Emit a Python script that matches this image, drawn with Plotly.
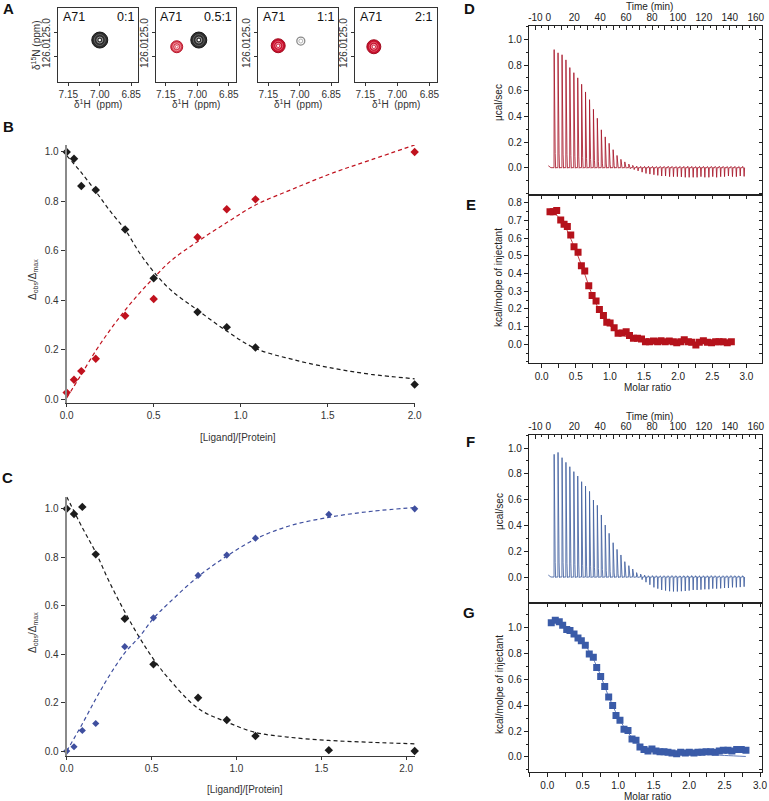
import plotly.graph_objects as go

W, H = 769, 801
FONT = "Liberation Sans, Arial, sans-serif"


def px(x):
    return x / W


def py(y):
    return 1 - y / H


# ---------------- DATA ----------------
# Panel A : 1H-15N HSQC peak of residue A71 at four ligand:protein ratios
nmr_residue = "A71"
nmr_ratios = ["0:1", "0.5:1", "1:1", "2:1"]
nmr_panel = [1, 2, 2, 3, 3, 4]
nmr_h = [7.000, 7.098, 6.993, 7.103, 6.995, 7.110]
nmr_n = [125.32, 125.59, 125.32, 125.55, 125.36, 125.59]
nmr_state = ["free", "bound_weak", "free", "bound", "free_weak", "bound"]
nmr_xticks = [7.15, 7.00, 6.85]
nmr_yticks = [125.0, 126.0]

# Panel B : chemical shift titration (red ligand)
b_ratio = [0.0, 0.042, 0.084, 0.167, 0.336, 0.50, 0.752, 0.92, 1.085, 2.0]
b_free = [1.0, 0.972, 0.862, 0.846, 0.686, 0.489, 0.352, 0.291, 0.209, 0.059]
b_bound = [0.026, 0.078, 0.113, 0.163, 0.337, 0.405, 0.655, 0.768, 0.808, 1.0]
b_fit_x = [0.0, 0.08, 0.167, 0.25, 0.336, 0.42, 0.5, 0.6, 0.752, 0.92, 1.085, 1.3, 1.534, 1.75, 2.0]
b_fit_free = [0.985, 0.92, 0.84, 0.76, 0.685, 0.59, 0.515, 0.44, 0.36, 0.275, 0.205, 0.16, 0.124, 0.10, 0.082]
b_fit_bound = [0.005, 0.095, 0.195, 0.28, 0.36, 0.43, 0.49, 0.56, 0.637, 0.714, 0.785, 0.85, 0.916, 0.968, 1.028]

# Panel C : chemical shift titration (blue ligand)
c_ratio = [0.0, 0.043, 0.092, 0.171, 0.342, 0.511, 0.774, 0.943, 1.112, 1.544, 2.05]
c_free = [1.0, 0.979, 1.008, 0.812, 0.546, 0.358, 0.220, 0.128, 0.062, 0.004, 0.0]
c_bound = [0.0, 0.018, 0.085, 0.114, 0.431, 0.55, 0.725, 0.809, 0.879, 0.977, 1.0]
c_fit_x = [0.0, 0.09, 0.171, 0.25, 0.342, 0.432, 0.511, 0.6, 0.774, 0.943, 1.112, 1.3, 1.544, 1.8, 2.05]
c_fit_free = [1.05, 0.925, 0.82, 0.70, 0.575, 0.465, 0.38, 0.30, 0.176, 0.12, 0.077, 0.058, 0.044, 0.036, 0.03]
c_fit_bound = [0.0, 0.11, 0.215, 0.31, 0.405, 0.475, 0.548, 0.61, 0.72, 0.805, 0.875, 0.927, 0.965, 0.99, 1.005]

# Panels D / F : raw ITC thermograms (injection time, peak max, peak min)
itc_times = [4.4, 7.4, 10.5, 13.5, 16.5, 19.6, 22.6, 25.6, 28.6, 31.7, 34.7, 37.7, 40.8,
             43.8, 46.8, 49.9, 52.9, 55.9, 58.9, 62.0, 65.0, 68.0, 71.1, 74.1, 77.1, 80.2,
             83.2, 86.2, 89.2, 92.3, 95.3, 98.3, 101.4, 104.4, 107.4, 110.5, 113.5, 116.5,
             119.5, 122.6, 125.6, 128.6, 131.7, 134.7, 137.7, 140.8, 143.8, 146.8, 149.8]
d_up = [0.92, 0.895, 0.88, 0.84, 0.78, 0.74, 0.70, 0.65, 0.59, 0.53, 0.455, 0.385, 0.295,
        0.24, 0.19, 0.14, 0.095, 0.065, 0.045, 0.028, 0.018, 0.012, 0.010, 0.010, 0.011,
        0.010, 0.009, 0.010, 0.010, 0.011, 0.010, 0.009, 0.010, 0.010, 0.011, 0.010, 0.009,
        0.010, 0.010, 0.009, 0.010, 0.010, 0.011, 0.010, 0.009, 0.010, 0.010, 0.009, 0.010]
d_down = [-0.004, -0.004, -0.004, -0.004, -0.004, -0.004, -0.004, -0.004, -0.004, -0.004,
          -0.004, -0.004, -0.004, -0.004, -0.004, -0.004, -0.004, -0.004, -0.004,
          -0.008, -0.015, -0.025, -0.035, -0.045, -0.05, -0.055, -0.06, -0.065, -0.065,
          -0.07, -0.07, -0.07, -0.072, -0.075, -0.075, -0.075, -0.075, -0.07, -0.075,
          -0.075, -0.07, -0.075, -0.07, -0.07, -0.065, -0.07, -0.07, -0.065, -0.068]
f_up = [0.951, 0.966, 0.925, 0.889, 0.855, 0.817, 0.783, 0.739, 0.705, 0.664, 0.597, 0.556,
        0.481, 0.403, 0.339, 0.266, 0.214, 0.171, 0.119, 0.088, 0.062, 0.034, 0.023, 0.015,
        0.010, 0.011, 0.010, 0.009, 0.010, 0.010, 0.011, 0.010, 0.009, 0.010, 0.010, 0.011,
        0.010, 0.009, 0.010, 0.010, 0.011, 0.010, 0.009, 0.010, 0.010, 0.011, 0.010, 0.009, 0.010]
f_down = [-0.004, -0.004, -0.004, -0.004, -0.004, -0.004, -0.004, -0.004, -0.004, -0.004,
          -0.004, -0.004, -0.004, -0.004, -0.004, -0.004, -0.004, -0.004, -0.004, -0.004,
          -0.004, -0.005, -0.02, -0.04, -0.06, -0.08, -0.09, -0.10, -0.105, -0.11, -0.112,
          -0.112, -0.11, -0.108, -0.105, -0.10, -0.10, -0.098, -0.095, -0.095, -0.09, -0.09,
          -0.088, -0.085, -0.085, -0.08, -0.08, -0.078, -0.075]

# Panel E : integrated heats (red ligand)
e_ratio = [0.122, 0.17, 0.22, 0.279, 0.328, 0.376, 0.426, 0.474, 0.533, 0.582, 0.631, 0.69,
           0.739, 0.797, 0.846, 0.905, 0.954, 1.003, 1.062, 1.12, 1.179, 1.238, 1.287, 1.345,
           1.404, 1.463, 1.521, 1.58, 1.639, 1.70, 1.75, 1.81, 1.87, 1.93, 1.98, 2.04, 2.09,
           2.15, 2.2, 2.26, 2.31, 2.37, 2.43, 2.49, 2.55, 2.6, 2.66, 2.72, 2.78]
e_heat = [0.749, 0.749, 0.755, 0.702, 0.678, 0.665, 0.617, 0.551, 0.52, 0.444, 0.414, 0.331,
          0.275, 0.245, 0.196, 0.162, 0.124, 0.12, 0.094, 0.062, 0.064, 0.071, 0.049, 0.034,
          0.034, 0.03, 0.015, 0.015, 0.019, 0.015, 0.02, 0.015, 0.019, 0.015, 0.008, 0.015,
          0.026, 0.015, 0.011, -0.004, 0.011, 0.02, 0.011, 0.008, 0.015, 0.015, 0.015, 0.008, 0.015]
e_fit_x = [0.122, 0.2, 0.3, 0.45, 0.6, 0.75, 0.9, 1.05, 1.2, 1.4, 1.7, 2.2, 2.78]
e_fit_y = [0.752, 0.735, 0.695, 0.575, 0.43, 0.27, 0.155, 0.085, 0.05, 0.03, 0.016, 0.01, 0.008]

# Panel G : integrated heats (blue ligand)
g_ratio = [0.056, 0.113, 0.169, 0.217, 0.274, 0.32, 0.377, 0.433, 0.48, 0.536, 0.592, 0.649,
           0.697, 0.753, 0.81, 0.866, 0.922, 0.969, 1.025, 1.082, 1.138, 1.195, 1.251, 1.307,
           1.364, 1.42, 1.476, 1.533, 1.59, 1.646, 1.702, 1.759, 1.825, 1.881, 1.947, 2.003,
           2.069, 2.125, 2.182, 2.238, 2.304, 2.369, 2.426, 2.482, 2.548, 2.604, 2.671, 2.736, 2.802]
g_heat = [1.039, 1.059, 1.047, 1.02, 0.987, 0.979, 0.953, 0.922, 0.901, 0.865, 0.798, 0.772,
          0.694, 0.624, 0.546, 0.464, 0.399, 0.321, 0.285, 0.215, 0.205, 0.14, 0.13, 0.078,
          0.057, 0.047, 0.062, 0.047, 0.041, 0.041, 0.036, 0.031, 0.026, 0.036, 0.031, 0.036,
          0.031, 0.036, 0.036, 0.041, 0.041, 0.036, 0.047, 0.052, 0.052, 0.047, 0.057, 0.057, 0.052]
g_fit_x = [0.056, 0.2, 0.4, 0.55, 0.7, 0.85, 1.0, 1.15, 1.3, 1.5, 1.8, 2.2, 2.5, 2.8]
g_fit_y = [1.055, 1.03, 0.945, 0.855, 0.70, 0.49, 0.31, 0.18, 0.10, 0.05, 0.03, 0.02, 0.012, 0.004]

# ---------------- STYLE ----------------
BLACK = "#1c1c1c"
RED = "#c0121e"
BLUE = "#3f4f9f"
ITC_RED = "#a8182a"
ITC_BLUE = "#41609f"
SQ_RED = "#b5121b"
SQ_BLUE = "#3a5ba8"

peak_styles = {
    "free": [("circle", 16, "#2e2e2e", "#151515", 1.0), ("circle-open", 11, "#5e5e5e", None, 1.0),
             ("circle-open", 6, "#9a9a9a", None, 1.0), ("circle", 2.5, "#ffffff", "#ffffff", 0)],
    "bound": [("circle", 14, "#c8102e", "#a00c1e", 1.0), ("circle-open", 9, "#e05868", None, 1.0),
              ("circle-open", 5, "#f2a0aa", None, 1.0), ("circle", 2.5, "#ffffff", "#ffffff", 0)],
    "bound_weak": [("circle", 12, "#d43a4c", "#b8182c", 1.0), ("circle-open", 8, "#ee8a96", None, 1.0),
                   ("circle-open", 4, "#f6c2c8", None, 1.0), ("circle", 2, "#ffffff", "#ffffff", 0)],
    "free_weak": [("circle-open", 8, "#8a8a8a", None, 1.3), ("circle-open", 4, "#b4b4b4", None, 1.0)],
}

fig = go.Figure()

# ---------- Panel A ----------
a_left = [58.3, 155.7, 258.3, 355.0]
a_right = [138.3, 236.0, 338.3, 436.7]
a_top, a_bot = 8.3, 81.7
for p in range(1, 5):
    xa = "x" if p == 1 else "x%d" % p
    ya = "y" if p == 1 else "y%d" % p
    for h, n, pan, st in zip(nmr_h, nmr_n, nmr_panel, nmr_state):
        if pan != p:
            continue
        for sym, sz, col, lcol, lw in peak_styles[st]:
            if sym.endswith("open"):
                mk = dict(symbol=sym, size=sz, color=col, line=dict(color=col, width=lw))
            else:
                mk = dict(symbol=sym, size=sz, color=col, line=dict(color=lcol, width=lw))
            fig.add_trace(go.Scatter(x=[h], y=[n], mode="markers", marker=mk, xaxis=xa, yaxis=ya,
                                     showlegend=False, hoverinfo="skip", cliponaxis=True))

# ---------- Panel B ----------
dash = "4px,3px"
fig.add_trace(go.Scatter(x=b_fit_x, y=b_fit_free, mode="lines", line=dict(color=BLACK, width=1.2, dash=dash, shape="spline"),
                         xaxis="x5", yaxis="y5", showlegend=False))
fig.add_trace(go.Scatter(x=b_fit_x, y=b_fit_bound, mode="lines", line=dict(color=RED, width=1.2, dash=dash, shape="spline"),
                         xaxis="x5", yaxis="y5", showlegend=False))
fig.add_trace(go.Scatter(x=b_ratio, y=b_free, mode="markers", marker=dict(symbol="diamond", size=6.5, color=BLACK),
                         xaxis="x5", yaxis="y5", showlegend=False, cliponaxis=False))
fig.add_trace(go.Scatter(x=b_ratio, y=b_bound, mode="markers", marker=dict(symbol="diamond", size=6.5, color=RED),
                         xaxis="x5", yaxis="y5", showlegend=False, cliponaxis=False))

# ---------- Panel C ----------
fig.add_trace(go.Scatter(x=c_fit_x, y=c_fit_free, mode="lines", line=dict(color=BLACK, width=1.2, dash=dash, shape="spline"),
                         xaxis="x6", yaxis="y6", showlegend=False))
fig.add_trace(go.Scatter(x=c_fit_x, y=c_fit_bound, mode="lines", line=dict(color=BLUE, width=1.2, dash=dash, shape="spline"),
                         xaxis="x6", yaxis="y6", showlegend=False))
fig.add_trace(go.Scatter(x=c_ratio, y=c_free, mode="markers", marker=dict(symbol="diamond", size=6.5, color=BLACK),
                         xaxis="x6", yaxis="y6", showlegend=False, cliponaxis=False))
fig.add_trace(go.Scatter(x=c_ratio, y=c_bound, mode="markers", marker=dict(symbol="diamond", size=5.5, color=BLUE),
                         xaxis="x6", yaxis="y6", showlegend=False, cliponaxis=False))


# ---------- Panels D / F ----------
def thermogram(times, ups, downs):
    xs, ys = [0.0, 2.0], [0.015, 0.0]
    for t, u, d in zip(times, ups, downs):
        xs += [t, t + 0.1, t + 0.9, t + 1.25, t + 1.6]
        ys += [0.0, u, u * 0.12, d, 0.0]
    return xs, ys


dx, dy = thermogram(itc_times, d_up, d_down)
fig.add_trace(go.Scatter(x=dx, y=dy, mode="lines", line=dict(color=ITC_RED, width=0.85),
                         xaxis="x7", yaxis="y7", showlegend=False))
fx, fy = thermogram(itc_times, f_up, f_down)
fig.add_trace(go.Scatter(x=fx, y=fy, mode="lines", line=dict(color=ITC_BLUE, width=0.85),
                         xaxis="x9", yaxis="y9", showlegend=False))

# ---------- Panels E / G ----------
fig.add_trace(go.Scatter(x=e_fit_x, y=e_fit_y, mode="lines", line=dict(color=SQ_RED, width=0.8, shape="spline"),
                         xaxis="x8", yaxis="y8", showlegend=False))
fig.add_trace(go.Scatter(x=e_ratio, y=e_heat, mode="markers", marker=dict(symbol="square", size=7, color=SQ_RED),
                         xaxis="x8", yaxis="y8", showlegend=False))
fig.add_trace(go.Scatter(x=g_fit_x, y=g_fit_y, mode="lines", line=dict(color=SQ_BLUE, width=0.8, shape="spline"),
                         xaxis="x10", yaxis="y10", showlegend=False))
fig.add_trace(go.Scatter(x=g_ratio, y=g_heat, mode="markers", marker=dict(symbol="square", size=7, color=SQ_BLUE),
                         xaxis="x10", yaxis="y10", showlegend=False))

# dummy traces so overlay tick axes are drawn
for xa, ya in [("x7", "y11"), ("x12", "y8"), ("x8", "y12"), ("x9", "y13"), ("x14", "y10"), ("x10", "y14")]:
    fig.add_trace(go.Scatter(x=[None], y=[None], mode="markers", xaxis=xa, yaxis=ya,
                             showlegend=False, hoverinfo="skip"))

# ---------------- LAYOUT ----------------
lay = dict(width=W, height=H, margin=dict(l=0, r=0, t=0, b=0, pad=0, autoexpand=False),
           paper_bgcolor="white", plot_bgcolor="white", showlegend=False,
           font=dict(family=FONT, size=10, color="#222"))

AX_A = dict(showgrid=False, zeroline=False, showline=True, mirror=True, linecolor="#333", linewidth=1.2,
            ticks="outside", ticklen=3, tickcolor="#333", tickfont=dict(size=10, color="#333"), automargin=False)
for p in range(1, 5):
    kx = "xaxis" if p == 1 else "xaxis%d" % p
    ky = "yaxis" if p == 1 else "yaxis%d" % p
    ax = "x" if p == 1 else "x%d" % p
    ay = "y" if p == 1 else "y%d" % p
    lay[kx] = dict(AX_A, domain=[px(a_left[p - 1]), px(a_right[p - 1])], range=[7.198, 6.816], anchor=ay,
                   tickmode="array", tickvals=nmr_xticks, tickformat=".2f")
    lay[ky] = dict(AX_A, domain=[py(a_bot), py(a_top)], range=[127.0, 124.04], anchor=ax,
                   tickmode="array", tickvals=nmr_yticks, tickformat=".1f", tickangle=-90)

AX_T = dict(showgrid=False, zeroline=False, ticks="outside", tickcolor="#333",
            tickfont=dict(size=10, color="#333"), tickformat=".1f", automargin=False)
lay["xaxis5"] = dict(AX_T, domain=[px(66.7), px(415)], range=[0, 2.002], anchor="y5", dtick=0.5, tick0=0,
                     ticklen=3, showline=True, linecolor="#3a3a3a", linewidth=1.3)
lay["yaxis5"] = dict(AX_T, domain=[py(403), py(145)], range=[-0.016, 1.028], anchor="x5", dtick=0.2, tick0=0,
                     ticklen=4, showline=True, linecolor="#8a8a8a", linewidth=2)
lay["xaxis6"] = dict(AX_T, domain=[px(66.7), px(414.7)], range=[0, 2.05], anchor="y6", dtick=0.5, tick0=0,
                     ticklen=3, showline=True, linecolor="#3a3a3a", linewidth=1.3)
lay["yaxis6"] = dict(AX_T, domain=[py(755.7), py(496.7)], range=[-0.019, 1.05], anchor="x6", dtick=0.2, tick0=0,
                     ticklen=4, showline=True, linecolor="#8a8a8a", linewidth=2)

AX_I = dict(showgrid=False, zeroline=False, showline=True, mirror=True, linecolor="#222", linewidth=1.1,
            tickcolor="#222", tickfont=dict(size=10, color="#222"), automargin=False)
OV = dict(showgrid=False, zeroline=False, showline=False, showticklabels=False, tickcolor="#222", automargin=False)
ITC_X = [529, 761.7]
time_vals = [-10, 0, 10, 20, 30, 40, 50, 60, 70, 80, 90, 100, 110, 120, 130, 140, 150, 160]
time_text = ["-10", "0", "", "20", "", "40", "", "60", "", "80", "", "100", "", "120", "", "140", "", "160"]
t_range = [-14.9, 164.6]
itc_y_vals = [0.0, 0.2, 0.4, 0.6, 0.8, 1.0]
e_y_vals = [0.0, 0.1, 0.2, 0.3, 0.4, 0.5, 0.6, 0.7, 0.8]

# D
d_yr = [-0.209, 1.104]
lay["xaxis7"] = dict(AX_I, domain=[px(ITC_X[0]), px(ITC_X[1])], range=t_range, anchor="y7", side="top",
                     tickmode="array", tickvals=time_vals, ticktext=time_text, ticks="inside", ticklen=4,
                     minor=dict(tick0=0, dtick=5, ticks="inside", ticklen=2, tickcolor="#222"))
lay["yaxis7"] = dict(AX_I, domain=[py(194.5), py(26)], range=d_yr, anchor="x7",
                     tickmode="array", tickvals=itc_y_vals, tickformat=".1f", ticks="outside", ticklen=4,
                     minor=dict(dtick=0.1, tick0=0, ticks="outside", ticklen=2, tickcolor="#222"))
lay["yaxis11"] = dict(OV, overlaying="y7", anchor="x7", side="right", range=d_yr, dtick=0.1, tick0=0,
                      ticks="inside", ticklen=3)
# E
e_xr = [-0.186, 3.225]
e_yr = [-0.104, 0.846]
lay["xaxis8"] = dict(AX_I, domain=[px(ITC_X[0]), px(ITC_X[1])], range=e_xr, anchor="y8", dtick=0.5, tick0=0,
                     tickformat=".1f", ticks="outside", ticklen=4,
                     minor=dict(dtick=0.25, tick0=0, ticks="outside", ticklen=4, tickcolor="#222"))
lay["yaxis8"] = dict(AX_I, domain=[py(362.7), py(194.5)], range=e_yr, anchor="x8",
                     tickmode="array", tickvals=e_y_vals, tickformat=".1f", ticks="outside", ticklen=4,
                     minor=dict(dtick=0.05, tick0=0, ticks="outside", ticklen=2, tickcolor="#222"))
lay["xaxis12"] = dict(OV, overlaying="x8", anchor="y8", side="top", range=e_xr, dtick=0.25, tick0=0,
                      ticks="inside", ticklen=4)
lay["yaxis12"] = dict(OV, overlaying="y8", anchor="x8", side="right", range=e_yr, dtick=0.05, tick0=0,
                      ticks="inside", ticklen=3)
# F
f_yr = [-0.199, 1.101]
lay["xaxis9"] = dict(AX_I, domain=[px(ITC_X[0]), px(ITC_X[1])], range=t_range, anchor="y9", side="top",
                     tickmode="array", tickvals=time_vals, ticktext=time_text, ticks="inside", ticklen=4,
                     minor=dict(tick0=0, dtick=5, ticks="inside", ticklen=2, tickcolor="#222"))
lay["yaxis9"] = dict(AX_I, domain=[py(602.7), py(435)], range=f_yr, anchor="x9",
                     tickmode="array", tickvals=itc_y_vals, tickformat=".1f", ticks="outside", ticklen=4,
                     minor=dict(dtick=0.1, tick0=0, ticks="outside", ticklen=2, tickcolor="#222"))
lay["yaxis13"] = dict(OV, overlaying="y9", anchor="x9", side="right", range=f_yr, dtick=0.1, tick0=0,
                      ticks="inside", ticklen=3)
# G
g_xr = [-0.258, 3.024]
g_yr = [-0.114, 1.195]
lay["xaxis10"] = dict(AX_I, domain=[px(ITC_X[0]), px(ITC_X[1])], range=g_xr, anchor="y10", dtick=0.5, tick0=0,
                      tickformat=".1f", ticks="outside", ticklen=4,
                      minor=dict(dtick=0.25, tick0=0, ticks="outside", ticklen=4, tickcolor="#222"))
lay["yaxis10"] = dict(AX_I, domain=[py(771.7), py(602.7)], range=g_yr, anchor="x10",
                      tickmode="array", tickvals=itc_y_vals, tickformat=".1f", ticks="outside", ticklen=4,
                      minor=dict(dtick=0.1, tick0=0, ticks="outside", ticklen=2, tickcolor="#222"))
lay["xaxis14"] = dict(OV, overlaying="x10", anchor="y10", side="top", range=g_xr, dtick=0.25, tick0=0,
                      ticks="inside", ticklen=4)
lay["yaxis14"] = dict(OV, overlaying="y10", anchor="x10", side="right", range=g_yr, dtick=0.1, tick0=0,
                      ticks="inside", ticklen=3)

fig.update_layout(**lay)


# ---------------- ANNOTATIONS ----------------
def ann(text, x, y, size=10, xanchor="center", yanchor="middle", angle=0, color="#222", bold=False):
    fig.add_annotation(text=("<b>%s</b>" % text) if bold else text, x=px(x), y=py(y), xref="paper", yref="paper",
                       showarrow=False, xanchor=xanchor, yanchor=yanchor, textangle=angle,
                       font=dict(family=FONT, size=size, color=color))


# panel letters
for lab, x, y in [("A", 8, 8.5), ("B", 8, 127), ("C", 7, 477.5), ("D", 469.5, 8.5), ("E", 471, 205),
                  ("F", 470, 441.7), ("G", 469, 612.5)]:
    ann(lab, x, y, size=15, bold=True, color="#111")

# panel A labels
for i in range(4):
    ann(nmr_residue, a_left[i] + 2.5, 17, size=12.5, xanchor="left", color="#111")
    ann(nmr_ratios[i], a_right[i] - 2.5, 17, size=12.5, xanchor="right", color="#111")
    ann("δ<sup>1</sup>H  (ppm)", (a_left[i] + a_right[i]) / 2, 104, size=10, color="#333")
ann("δ<sup>15</sup>N (ppm)", 36, 45, size=10, angle=-90, color="#333")

# panels B / C titles
ann("Δ<sub>obs</sub>/Δ<sub>max</sub>", 33, 280, size=10, angle=-90, color="#333")
ann("[Ligand]/[Protein]", 238, 437, size=10, color="#333")
ann("Δ<sub>obs</sub>/Δ<sub>max</sub>", 33, 633, size=10, angle=-90, color="#333")
ann("[Ligand]/[Protein]", 245, 789, size=10, color="#333")

# ITC titles
ann("Time (min)", 649, 6.5, size=10)
ann("μcal/sec", 499, 103, size=10, angle=-90)
ann("kcal/molpe of injectant", 499, 278, size=10, angle=-90)
ann("Molar ratio", 648, 387.5, size=10)
ann("Time (min)", 649, 416.5, size=10)
ann("μcal/sec", 499, 512, size=10, angle=-90)
ann("kcal/molpe of injectant", 499, 685, size=10, angle=-90)
ann("Molar ratio", 648, 796.5, size=10)

fig.write_html("out.html", config={"displayModeBar": False},
               post_script="document.body.style.margin='0px';document.body.style.padding='0px';"
                           "document.body.style.overflow='hidden';")
